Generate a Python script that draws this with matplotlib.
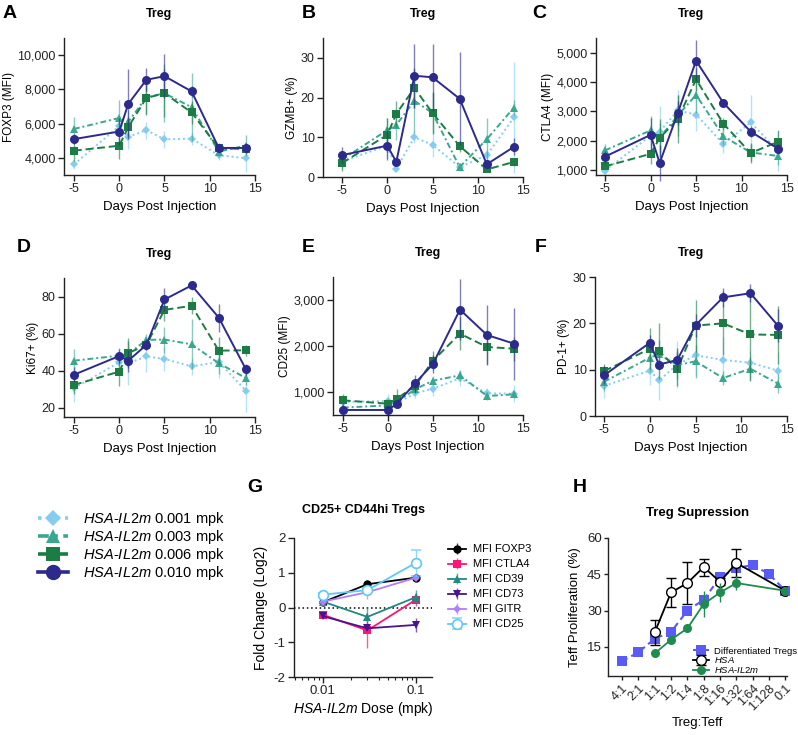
import matplotlib
matplotlib.use("Agg")
import matplotlib.pyplot as plt
import numpy as np
from matplotlib.lines import Line2D
from matplotlib.ticker import FixedLocator, FuncFormatter, NullFormatter, LogLocator

plt.rcParams['font.family'] = ['Liberation Sans', 'DejaVu Sans']
plt.rcParams['mathtext.fontset'] = 'custom'
plt.rcParams['mathtext.it'] = 'Liberation Sans:italic'
plt.rcParams['mathtext.rm'] = 'Liberation Sans'
plt.rcParams['axes.unicode_minus'] = False

# ---------------- data ----------------
days = [-5, 0, 1, 3, 5, 8, 11, 14]
dose_labels = ['0.001', '0.003', '0.006', '0.010']

# series order: 0.001, 0.003, 0.006, 0.010 mpk
foxp3_mean = [[3620, 5850, 5230, 5620, 5080, 5130, 4150, 3980],
              [5690, 6330, 6100, 7540, 7770, 6960, 4370, 4710],
              [4420, 4710, 5800, 7500, 7770, 6650, 4560, 4520],
              [5096, 5540, 7150, 8560, 8770, 7880, 4580, 4580]]
foxp3_err = [[250, 600, 700, 500, 500, 400, 300, 800],
             [700, 1050, 700, 1000, 1700, 2000, 300, 600],
             [600, 780, 600, 1000, 1400, 700, 300, 300],
             [300, 800, 2050, 670, 1270, 300, 200, 300]]

gzmb_mean = [[3.9, 7.9, 2.1, 10.0, 8.1, 2.5, 5.5, 15.0],
             [4.4, 11.8, 13.1, 19.2, 16.1, 2.5, 9.5, 17.5],
             [3.5, 10.6, 15.9, 22.4, 16.1, 7.8, 1.9, 3.8],
             [5.5, 7.9, 3.8, 25.5, 25.1, 19.7, 3.2, 7.6]]
gzmb_err = [[2.0, 3.0, 0.5, 1.5, 3.0, 0.5, 1.5, 14.0],
            [2.0, 3.0, 3.8, 8.0, 5.0, 1.0, 5.3, 2.0],
            [2.0, 4.2, 3.3, 5.0, 5.2, 1.5, 0.5, 1.0],
            [2.0, 3.7, 1.0, 8.1, 8.5, 11.7, 1.0, 2.1]]

ctla4_mean = [[980, 2170, 2310, 3030, 2890, 1890, 2620, 1660],
              [1670, 2350, 2100, 2860, 3560, 2150, 1600, 1480],
              [1125, 1550, 2090, 2740, 4090, 2580, 1580, 1960],
              [1456, 2197, 1240, 2950, 4726, 3290, 2310, 1730]]
ctla4_err = [[100, 200, 880, 700, 570, 300, 920, 680],
             [200, 500, 500, 700, 600, 300, 300, 300],
             [100, 350, 650, 830, 400, 200, 350, 400],
             [200, 560, 600, 400, 700, 60, 200, 150]]

ki67_mean = [[30.5, 44.5, 44.0, 47.7, 46.3, 42.3, 44.7, 29.2],
             [45.4, 48.1, 49.0, 56.6, 56.8, 54.2, 44.0, 36.0],
             [32.3, 39.5, 49.5, 53.9, 72.8, 75.0, 50.8, 51.0],
             [37.8, 47.9, 45.4, 53.9, 78.4, 86.0, 68.6, 40.7]]
ki67_err = [[7.5, 5.0, 12.0, 8.5, 6.5, 4.5, 8.5, 11.5],
            [6.3, 4.0, 7.0, 3.0, 7.0, 13.5, 6.0, 4.0],
            [5.0, 8.0, 8.0, 3.0, 6.0, 4.5, 7.6, 3.0],
            [4.0, 4.0, 6.0, 3.0, 6.0, 2.5, 7.6, 3.0]]

cd25_mean = [[783, 804, 754, 971, 1072, 1297, 971, 964],
             [660, 710, 783, 1058, 1246, 1362, 913, 949],
             [819, 746, 855, 1130, 1681, 2268, 1978, 1942],
             [609, 609, 746, 1188, 1609, 2790, 2239, 2051]]
cd25_err = [[80, 150, 100, 100, 150, 170, 120, 180],
            [80, 100, 100, 100, 100, 120, 80, 80],
            [140, 100, 200, 150, 210, 360, 380, 260],
            [40, 40, 100, 180, 200, 670, 660, 780]]

pd1_mean = [[6.5, 9.8, 7.7, 11.1, 13.1, 12.1, 11.5, 9.8],
            [7.4, 12.6, 13.3, 11.0, 11.8, 8.2, 10.2, 7.0],
            [9.7, 14.5, 14.0, 10.1, 19.5, 20.0, 17.6, 17.5],
            [8.8, 15.8, 11.1, 12.1, 19.6, 25.6, 26.5, 19.5]]
pd1_err = [[2.7, 3.1, 4.3, 5.0, 4.5, 5.0, 2.5, 4.0],
           [2.0, 3.0, 3.0, 3.0, 3.5, 1.5, 2.5, 2.0],
           [1.5, 4.4, 6.0, 3.6, 5.6, 6.9, 10.0, 6.3],
           [2.0, 1.7, 1.0, 2.5, 2.5, 2.0, 2.0, 3.6]]

# panel G
g_dose = [0.01, 0.03, 0.1]
g_names = ['MFI FOXP3', 'MFI CTLA4', 'MFI CD39', 'MFI CD73', 'MFI GITR', 'MFI CD25']
g_mean = [[0.15, 0.67, 0.86],
          [-0.21, -0.66, 0.23],
          [0.17, -0.27, 0.30],
          [-0.25, -0.60, -0.50],
          [0.17, 0.44, 0.86],
          [0.37, 0.50, 1.29]]
g_err = [[0.03, 0.13, 0.03],
         [0.05, 0.50, 0.20],
         [0.03, 0.28, 0.20],
         [0.05, 0.05, 0.20],
         [0.03, 0.20, 0.03],
         [0.06, 0.06, 0.37]]

# panel H
ratios = ['4:1', '2:1', '1:1', '1:2', '1:4', '1:8', '1:16', '1:32', '1:64', '1:128', '0:1']
diff_treg = [9.1, 12.8, 18.4, 21.2, 30.0, 34.5, 43.8, 47.5, 48.9, 45.1, 38.2]
hsa_idx = [2, 3, 4, 5, 6, 7, 10]
hsa_mean = [21.0, 37.5, 41.4, 48.0, 41.9, 49.7, 38.2]
hsa_err = [5.3, 5.9, 8.7, 3.5, 1.5, 5.8, 0.0]
il2m_idx = [2, 3, 4, 5, 6, 7, 10]
il2m_mean = [12.3, 18.0, 22.7, 32.7, 37.5, 41.4, 38.2]
il2m_err = [0.0, 0.0, 0.0, 5.5, 3.8, 2.9, 0.0]

# ---------------- styles ----------------
dose_colors = ['#84cdf0', '#3aa88e', '#1b7d43', '#2d2a8e']
dose_markers = ['D', '^', 's', 'o']
dose_ls = [(0, (1, 1.5)), (0, (3, 1.5, 1, 1.5)), (0, (4, 2)), '-']
dose_ms = [4.5, 6, 6, 6.5]

W, H = 798, 735
fig = plt.figure(figsize=(W / 100, H / 100), dpi=100)


def rect(l, t, r, b):
    return [l / W, 1 - b / H, (r - l) / W, (b - t) / H]


def style(ax, labelsize=9):
    for s in ['top', 'right']:
        ax.spines[s].set_visible(False)
    for s in ['left', 'bottom']:
        ax.spines[s].set_color('#222222')
        ax.spines[s].set_linewidth(1.0)
    ax.tick_params(direction='out', length=4, width=1, colors='#222222', pad=2,
                   labelsize=labelsize, labelcolor='#222222')


comma = FuncFormatter(lambda v, p: f'{int(v):,}')


def timecourse(r, means, errs, ylabel, ylim, yticks, xlim, fmt=None):
    ax = fig.add_axes(rect(*r))
    style(ax)
    for i in range(4):
        eb = ax.errorbar(days, means[i], yerr=errs[i], color=dose_colors[i],
                         ecolor=dose_colors[i], elinewidth=1.0, capsize=3.5, capthick=1.0,
                         linestyle=dose_ls[i], linewidth=1.4, marker=dose_markers[i],
                         markersize=dose_ms[i], markeredgewidth=0, zorder=2 + i,
                         clip_on=False)
        for c in eb[2]:
            c.set_alpha(0.6)
        for c in eb[1]:
            c.set_alpha(0.6)
    ax.set_xlim(*xlim)
    ax.set_xticks([-5, 0, 5, 10, 15])
    ax.set_ylim(*ylim)
    ax.set_yticks(yticks)
    if fmt is not None:
        ax.yaxis.set_major_formatter(fmt)
    ax.set_ylabel(ylabel, fontsize=8.5, labelpad=2)
    ax.set_xlabel('Days Post Injection', fontsize=9.5, labelpad=4)
    ax.set_title('Treg', fontsize=9, fontweight='bold', pad=15)
    return ax


axA = timecourse((64, 38, 255, 175), foxp3_mean, foxp3_err, 'FOXP3 (MFI)',
                 (3000, 11000), [4000, 6000, 8000, 10000], (-6.1, 15), comma)
axB = timecourse((323, 38, 523, 177), gzmb_mean, gzmb_err, 'GZMB+ (%)',
                 (0, 35), [0, 10, 20, 30], (-7.1, 15))
axC = timecourse((596, 38, 787, 175), ctla4_mean, ctla4_err, 'CTLA4 (MFI)',
                 (830, 5500), [1000, 2000, 3000, 4000, 5000], (-6.0, 15), comma)
axD = timecourse((64, 278, 255, 417), ki67_mean, ki67_err, 'Ki67+ (%)',
                 (15, 90), [20, 40, 60, 80], (-6.1, 15))
axE = timecourse((333, 277, 523, 415), cd25_mean, cd25_err, 'CD25 (MFI)',
                 (500, 3500), [1000, 2000, 3000], (-6.1, 15), comma)
axF = timecourse((595, 277, 787, 416), pd1_mean, pd1_err, 'PD-1+ (%)',
                 (0, 30), [0, 10, 20, 30], (-6.0, 15))

# ---------------- main legend ----------------
handles = []
for i in range(4):
    handles.append(Line2D([0], [0], color=dose_colors[i], linestyle=dose_ls[i],
                          linewidth=2.6, marker=dose_markers[i],
                          markersize=dose_ms[i] * 1.7, markeredgewidth=0))
labels = [r'$\mathit{HSA}$-$\mathit{IL2m}$ ' + d + ' mpk' for d in dose_labels]
fig.legend(handles, labels, loc='center left', bbox_to_anchor=(32 / W, 1 - 546 / H),
           frameon=False, fontsize=10.5, handlelength=2.1, handletextpad=1.0,
           labelspacing=0.0, borderaxespad=0)

# ---------------- panel G ----------------
g_colors = ['#000000', '#ff1477', '#1e8a80', '#4a1490', '#b27cff', '#5ec8f8']
g_markers = ['o', 's', '^', 'v', 'D', 'o']
g_ms = [6, 6, 6, 6, 4.5, 7]
axG = fig.add_axes(rect(294, 538, 432, 677))
style(axG, labelsize=9.5)
axG.set_xscale('log')
axG.axhline(0, color='black', linestyle=(0, (1, 1.8)), linewidth=1.1, zorder=1)
for i in range(6):
    face = 'white' if i == 5 else g_colors[i]
    eb = axG.errorbar(g_dose, g_mean[i], yerr=g_err[i], color=g_colors[i],
                      ecolor=g_colors[i], elinewidth=1.0, capsize=3.5, capthick=1.0,
                      linewidth=1.3, marker=g_markers[i], markersize=g_ms[i],
                      markerfacecolor=face, markeredgecolor=g_colors[i],
                      markeredgewidth=1.2 if i == 5 else 0, label=g_names[i],
                      zorder=3 + i)
    for c in eb[2]:
        c.set_alpha(0.7)
    for c in eb[1]:
        c.set_alpha(0.7)
axG.set_xlim(0.0049, 0.148)
axG.set_ylim(-2, 2)
axG.set_yticks([-2, -1, 0, 1, 2])
axG.xaxis.set_major_locator(FixedLocator([0.01, 0.1]))
axG.xaxis.set_major_formatter(FuncFormatter(lambda v, p: '0.01' if v < 0.05 else '0.1'))
axG.xaxis.set_minor_locator(LogLocator(base=10, subs=np.arange(2, 10)))
axG.xaxis.set_minor_formatter(NullFormatter())
axG.tick_params(axis='x', which='minor', length=2.5, width=0.8, colors='#222222')
axG.set_ylabel('Fold Change (Log2)', fontsize=10, labelpad=4)
axG.set_xlabel(r'$\mathit{HSA}$-$\mathit{IL2m}$ Dose (mpk)', fontsize=10, labelpad=2)
axG.set_title('CD25+ CD44hi Tregs', fontsize=9, fontweight='bold', pad=18)
axG.legend(loc='upper left', bbox_to_anchor=(444 / W, 1 - 540 / H),
           bbox_transform=fig.transFigure, frameon=False, fontsize=8,
           handlelength=1.6, handletextpad=0.6, labelspacing=0.45, borderaxespad=0)

# ---------------- panel H ----------------
xh = np.arange(len(ratios))
axH = fig.add_axes(rect(608, 538, 787, 676))
style(axH, labelsize=9.5)
axH.tick_params(length=3, pad=1.5)
axH.plot(xh, diff_treg, color='#5a5af5', linestyle=(0, (3, 2)), linewidth=1.5,
         marker='s', markersize=6.5, markeredgewidth=0, label='Differentiated Tregs',
         zorder=3, clip_on=False)
ebh = axH.errorbar(xh[hsa_idx], hsa_mean, yerr=hsa_err, color='black', ecolor='black',
                   elinewidth=1.0, capsize=3.5, capthick=1.0, linewidth=1.3,
                   marker='o', markersize=7, markerfacecolor='white',
                   markeredgecolor='black', markeredgewidth=1.0, label=r'$\mathit{HSA}$',
                   zorder=4)
ebi = axH.errorbar(xh[il2m_idx], il2m_mean, yerr=il2m_err, color='#1e8c4e',
                   ecolor='#1e8c4e', elinewidth=1.0, capsize=3.5, capthick=1.0,
                   linewidth=1.3, marker='o', markersize=6.5, markeredgewidth=0,
                   label=r'$\mathit{HSA}$-$\mathit{IL2m}$', zorder=5)
axH.set_xlim(-0.86, 10.1)
axH.set_ylim(3, 60)
axH.set_yticks([15, 30, 45, 60])
axH.set_xticks(xh)
axH.set_xticklabels(ratios, rotation=45, ha='right', rotation_mode='anchor', fontsize=9)
axH.set_ylabel('Teff Proliferation (%)', fontsize=9.5, labelpad=4)
axH.set_xlabel('Treg:Teff', fontsize=9.5, labelpad=3)
axH.set_title('Treg Supression', fontsize=9.5, fontweight='bold', pad=16)
axH.legend(loc='upper left', bbox_to_anchor=(689 / W, 1 - 643 / H),
           bbox_transform=fig.transFigure, frameon=False, fontsize=6.8,
           handlelength=1.7, handletextpad=0.6, labelspacing=-0.15, borderaxespad=0)

# ---------------- panel letters ----------------
for letter, x, y in [('A', 3, 13), ('B', 302, 13), ('C', 532, 13),
                     ('D', 17, 247), ('E', 302, 247), ('F', 535, 247),
                     ('G', 247, 487), ('H', 573, 487)]:
    fig.text(x / W, 1 - y / H, letter, fontsize=14, fontweight='bold',
             ha='left', va='center')

fig.savefig('out.png', dpi=100)
